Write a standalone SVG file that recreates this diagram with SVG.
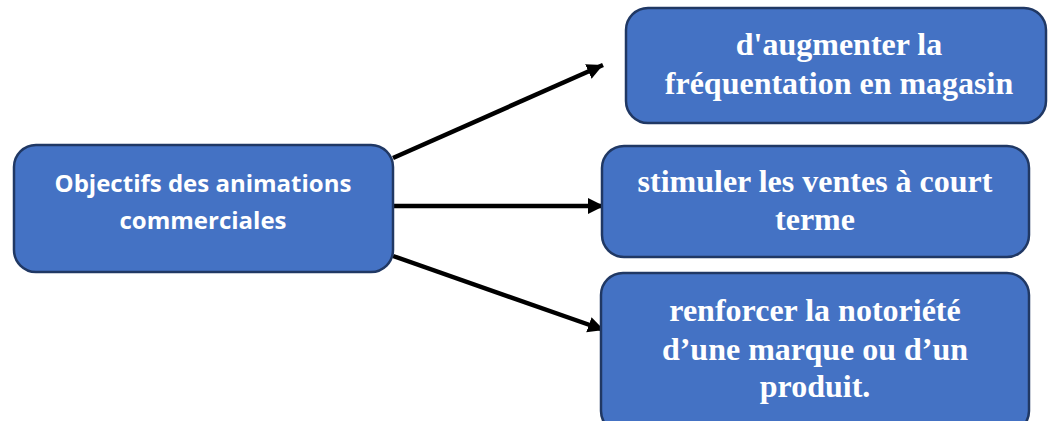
<svg xmlns="http://www.w3.org/2000/svg" width="1048" height="421" viewBox="0 0 1048 421">
<style>
.box{fill:#4472C4;stroke:#203864;stroke-width:2.5}
.l{font-family:"Open Sans","Liberation Sans",sans-serif;font-weight:bold;font-size:24px;fill:#fff;text-anchor:middle}
.r{font-family:"Liberation Serif","Times New Roman",serif;font-weight:bold;font-size:32px;fill:#fff;text-anchor:middle}
.c{stroke:#000;stroke-width:4.5;fill:none}
</style>
<defs>
<marker id="ah" markerUnits="userSpaceOnUse" markerWidth="18" markerHeight="18" refX="16" refY="8" orient="auto">
<path d="M0,0 L16,8 L0,16 Z" fill="#000"/>
</marker>
</defs>
<rect width="1048" height="421" fill="#fff"/>
<g id="connectors">
<line class="c" x1="393" y1="158" x2="603" y2="65" marker-end="url(#ah)"/>
<line class="c" x1="393" y1="206" x2="604" y2="206" marker-end="url(#ah)"/>
<line class="c" x1="393" y1="256" x2="604" y2="330" marker-end="url(#ah)"/>
</g>
<g id="n0">
<rect class="box" x="14" y="145" width="379" height="127" rx="22"/>
<text class="l" x="203" y="192">Objectifs des animations</text>
<text class="l" x="203" y="229">commerciales</text>
</g>
<g id="n1">
<rect class="box" x="626" y="8" width="420" height="115" rx="22"/>
<text class="r" x="839" y="55">d'augmenter la</text>
<text class="r" x="839" y="94">fréquentation en magasin</text>
</g>
<g id="n2">
<rect class="box" x="602" y="146" width="427" height="111" rx="22"/>
<text class="r" x="815" y="192">stimuler les ventes à court</text>
<text class="r" x="815" y="230">terme</text>
</g>
<g id="n3">
<rect class="box" x="601" y="273" width="428" height="160" rx="22"/>
<text class="r" x="815" y="321">renforcer la notoriété</text>
<text class="r" x="815" y="360">d’une marque ou d’un</text>
<text class="r" x="815" y="397">produit.</text>
</g>
</svg>
